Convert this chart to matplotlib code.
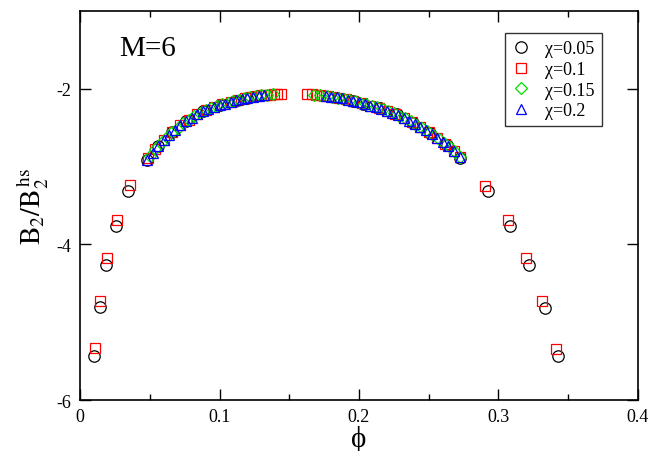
import numpy as np
import matplotlib
matplotlib.use('Agg')
import matplotlib.pyplot as plt
from matplotlib.ticker import MultipleLocator

plt.rcParams['font.family'] = ['Liberation Serif', 'DejaVu Serif']
plt.rcParams['mathtext.fontset'] = 'stix'
plt.rcParams['axes.unicode_minus'] = False

# chi = 0.05
phi_005 = [0.0103, 0.0141, 0.0186, 0.0256, 0.0346, 0.048, 0.056, 0.066, 0.076, 0.088,
           0.100, 0.111, 0.120, 0.196, 0.203, 0.215, 0.227, 0.239, 0.251, 0.263,
           0.2725, 0.2927, 0.3085, 0.3216, 0.3331, 0.3424]
b2_005 = [-5.43, -4.81, -4.27, -3.76, -3.31, -2.91, -2.74, -2.56, -2.42, -2.29,
          -2.21, -2.155, -2.115, -2.155, -2.19, -2.25, -2.33, -2.44, -2.57, -2.72,
          -2.89, -3.31, -3.765, -4.27, -4.82, -5.43]

# chi = 0.1
phi_01 = [0.0108, 0.0146, 0.0196, 0.0263, 0.0358,
          0.049, 0.054, 0.060, 0.066, 0.072, 0.078, 0.084, 0.090, 0.096, 0.102,
          0.108, 0.113, 0.118, 0.122, 0.126, 0.130, 0.133, 0.136, 0.139, 0.141, 0.144,
          0.163, 0.166, 0.169, 0.172, 0.175, 0.178, 0.182, 0.186, 0.191, 0.196,
          0.202, 0.208, 0.214, 0.220, 0.226, 0.232, 0.238, 0.244, 0.250, 0.256,
          0.262, 0.268, 0.2725,
          0.2903, 0.3066, 0.3199, 0.3314, 0.3414]
b2_01 = [-5.33, -4.73, -4.18, -3.69, -3.24,
         -2.89, -2.78, -2.66, -2.56, -2.47, -2.395, -2.33, -2.275, -2.23, -2.20,
         -2.17, -2.145, -2.12, -2.107, -2.095, -2.085, -2.08, -2.075, -2.072, -2.07, -2.07,
         -2.07, -2.073, -2.077, -2.082, -2.09, -2.097, -2.107, -2.118, -2.135, -2.155,
         -2.185, -2.215, -2.245, -2.28, -2.32, -2.37, -2.43, -2.49, -2.56, -2.63,
         -2.71, -2.795, -2.88,
         -3.25, -3.69, -4.18, -4.73, -5.34]

# chi = 0.15
phi_015 = [0.050, 0.054, 0.058, 0.062, 0.066, 0.070, 0.074, 0.078, 0.082, 0.086,
           0.090, 0.094, 0.098, 0.102, 0.106, 0.110, 0.114, 0.118, 0.122, 0.126,
           0.130, 0.134, 0.138,
           0.168, 0.172, 0.177, 0.181, 0.185, 0.189, 0.193, 0.197, 0.201, 0.205,
           0.209, 0.213, 0.217, 0.221, 0.225, 0.229, 0.233, 0.237, 0.241, 0.245,
           0.249, 0.253, 0.257, 0.261, 0.265, 0.269, 0.2725]
b2_015 = [-2.86, -2.78, -2.70, -2.625, -2.56, -2.50, -2.445, -2.395, -2.35, -2.31,
          -2.275, -2.245, -2.22, -2.20, -2.18, -2.16, -2.14, -2.12, -2.107, -2.095,
          -2.085, -2.078, -2.072,
          -2.076, -2.082, -2.095, -2.105, -2.115, -2.128, -2.14, -2.16, -2.18, -2.20,
          -2.22, -2.24, -2.262, -2.287, -2.315, -2.345, -2.38, -2.42, -2.46, -2.50,
          -2.545, -2.595, -2.645, -2.695, -2.75, -2.815, -2.88]

# chi = 0.2
phi_02 = [0.048, 0.052, 0.056, 0.060, 0.064, 0.068, 0.072, 0.076, 0.080, 0.084,
          0.088, 0.092, 0.096, 0.100, 0.104, 0.108, 0.112, 0.116, 0.120, 0.124,
          0.128, 0.132,
          0.176, 0.180, 0.184, 0.188, 0.192, 0.196, 0.200, 0.204, 0.208, 0.212,
          0.216, 0.220, 0.224, 0.228, 0.232, 0.236, 0.240, 0.244, 0.248, 0.252,
          0.256, 0.260, 0.264, 0.268, 0.2725]
b2_02 = [-2.91, -2.82, -2.74, -2.66, -2.59, -2.53, -2.47, -2.42, -2.37, -2.33,
         -2.29, -2.26, -2.23, -2.21, -2.19, -2.17, -2.15, -2.13, -2.115, -2.10,
         -2.09, -2.08,
         -2.092, -2.10, -2.112, -2.123, -2.14, -2.155, -2.175, -2.195, -2.215, -2.235,
         -2.255, -2.28, -2.305, -2.335, -2.37, -2.41, -2.45, -2.49, -2.535, -2.585,
         -2.635, -2.685, -2.735, -2.795, -2.88]

fig = plt.figure(figsize=(6.49, 4.52), dpi=100)
ax = fig.add_axes([0.1233, 0.1128, 0.8597, 0.8607])

ax.plot(phi_005, b2_005, 'o', mfc='none', mec='black', ms=8.2, mew=0.9, label='χ=0.05')
ax.plot(phi_01, b2_01, 's', mfc='none', mec='red', ms=7.4, mew=0.9, label='χ=0.1')
ax.plot(phi_015, b2_015, 'D', mfc='none', mec='#00e000', ms=6.2, mew=0.9, label='χ=0.15')
ax.plot(phi_02, b2_02, '^', mfc='none', mec='blue', ms=7.8, mew=0.9, label='χ=0.2')

ax.set_xlim(0, 0.4)
ax.set_ylim(-6, -1)
ax.xaxis.set_minor_locator(MultipleLocator(0.05))
ax.set_xticks([0, 0.1, 0.2, 0.3, 0.4])
ax.set_xticklabels(['0', '0.1', '0.2', '0.3', '0.4'])
ax.set_yticks([-6, -4, -2])
ax.set_yticklabels(['-6', '-4', '-2'])
ax.tick_params(which='both', direction='in', top=True, right=True, labelsize=13, width=1)
ax.tick_params(which='major', length=8, pad=6)
ax.tick_params(which='minor', length=4)
for s in ax.spines.values():
    s.set_linewidth(1.2)

ax.set_xlabel('ϕ', fontsize=21, labelpad=0)
ax.set_ylabel(r'$\mathrm{B_2/B_2^{\,hs}}$', fontsize=20, labelpad=4)

ax.text(0.07, 0.905, 'M=6', transform=ax.transAxes, fontsize=21, va='center', ha='left')

leg = ax.legend(loc='upper left', bbox_to_anchor=(0.762, 0.943), fontsize=13,
                frameon=True, fancybox=False, handlelength=1.0, handletextpad=0.8,
                borderpad=0.4, labelspacing=0.2, borderaxespad=0)
leg.get_frame().set_edgecolor('black')
leg.get_frame().set_linewidth(1.0)

fig.savefig('out.png', dpi=100)
